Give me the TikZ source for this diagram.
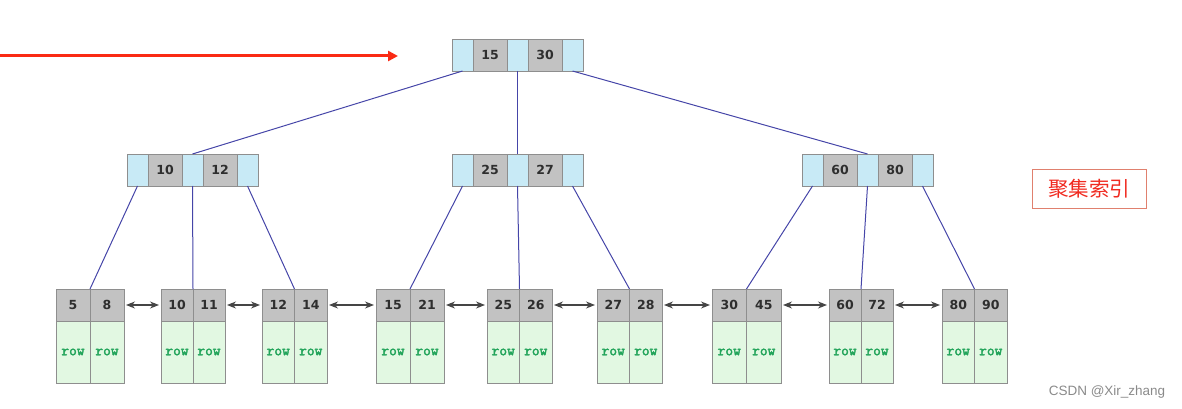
\documentclass[tikz,border=0pt]{standalone}
\usepackage{fontspec}
\usetikzlibrary{arrows.meta}
\newfontfamily\numfont{DejaVu Sans}
\newfontfamily\rowfont[FakeBold=2.5]{Latin Modern Mono}
\newfontfamily\cjk{Noto Sans CJK SC}
\newfontfamily\wmfont{Liberation Sans}
\definecolor{cellblue}{HTML}{C8EAF6}
\definecolor{cellgray}{HTML}{C2C2C2}
\definecolor{cellgreen}{HTML}{E2F8E2}
\definecolor{cellborder}{HTML}{8E8E8E}
\definecolor{linkblue}{HTML}{4545A8}
\definecolor{rowgreen}{HTML}{22A45A}
\definecolor{numcol}{HTML}{2E2E2E}
\definecolor{sibcol}{HTML}{454545}
\definecolor{redline}{HTML}{FA2A14}
\definecolor{boxred}{HTML}{E0806E}
\definecolor{textred}{HTML}{F02A20}
\definecolor{wmgray}{HTML}{8A8A8A}
\tikzset{
  cellbase/.style={draw=cellborder, line width=0.8pt, inner sep=0pt, outer sep=0pt,
    minimum height=32pt},
  bcell/.style={cellbase, fill=cellblue, minimum width=21pt},
  gcell/.style={cellbase, fill=cellgray, minimum width=34pt,
    font=\numfont\bfseries\fontsize{12.5}{13}\selectfont, text=numcol},
  lkey/.style={cellbase, fill=cellgray, font=\numfont\bfseries\fontsize{12.5}{13}\selectfont, text=numcol},
  lrow/.style={cellbase, fill=cellgreen, minimum height=62pt,
    font=\rowfont\fontsize{15}{16}\selectfont, text=rowgreen},
  link/.style={draw=linkblue, line width=1pt},
  sib/.style={draw=sibcol, line width=1.1pt, {Stealth[length=9pt,width=7pt]}-{Stealth[length=9pt,width=7pt]}, shorten <=2pt, shorten >=2pt},
  redarrow/.style={draw=redline, line width=3pt, -{Triangle[length=10pt,width=10pt]}},
  labelbox/.style={draw=boxred, line width=1pt, minimum width=114pt, minimum height=39pt,
    inner sep=0pt, text=textred, font=\cjk\fontsize{20.5}{21}\selectfont},
  wm/.style={text=wmgray, font=\wmfont\fontsize{13.5}{14}\selectfont, inner sep=0pt}
}
\newcommand\inode[5]{%
  \node[bcell, anchor=north west] (#1b1) at (#2,#3) {};
  \node[gcell, anchor=west] (#1k1) at (#1b1.east) {#4};
  \node[bcell, anchor=west] (#1b2) at (#1k1.east) {};
  \node[gcell, anchor=west] (#1k2) at (#1b2.east) {#5};
  \node[bcell, anchor=west] (#1b3) at (#1k2.east) {};
}
\newcommand\leafnode[5]{%
  \node[lkey, minimum width=#3pt, anchor=north west] (#1k1) at (#2,289) {#4};
  \node[lkey, minimum width=#3pt, anchor=west] (#1k2) at (#1k1.east) {#5};
  \node[lrow, minimum width=#3pt, anchor=north] (#1r1) at (#1k1.south) {row};
  \node[lrow, minimum width=#3pt, anchor=north] (#1r2) at (#1k2.south) {row};
}
\begin{document}
\begin{tikzpicture}[x=1pt,y=-1pt]
\useasboundingbox (0,0) rectangle (1182,409);
% internal nodes
\inode{rt}{452}{39}{15}{30}
\inode{ml}{127}{154}{10}{12}
\inode{mm}{452}{154}{25}{27}
\inode{mr}{802}{154}{60}{80}
% leaves
\leafnode{la}{56}{34}{5}{8}
\leafnode{lb}{161}{32}{10}{11}
\leafnode{lc}{262}{32.5}{12}{14}
\leafnode{ld}{376}{34}{15}{21}
\leafnode{le}{487}{32.5}{25}{26}
\leafnode{lf}{597}{32.5}{27}{28}
\leafnode{lg}{712}{34.5}{30}{45}
\leafnode{lh}{829}{32}{60}{72}
\leafnode{li}{942}{32.5}{80}{90}
% root links
\draw[link] (rtb1.south) -- (mlb2.north);
\draw[link] (rtb2.south) -- (mmb2.north);
\draw[link] (rtb3.south) -- (mrb2.north);
% middle links
\draw[link] (mlb1.south) -- (lak1.north east);
\draw[link] (mlb2.south) -- (lbk1.north east);
\draw[link] (mlb3.south) -- (lck1.north east);
\draw[link] (mmb1.south) -- (ldk1.north east);
\draw[link] (mmb2.south) -- (lek1.north east);
\draw[link] (mmb3.south) -- (lfk1.north east);
\draw[link] (mrb1.south) -- (lgk1.north east);
\draw[link] (mrb2.south) -- (lhk1.north east);
\draw[link] (mrb3.south) -- (lik1.north east);
% sibling arrows
\draw[sib] (lak2.east) -- (lbk1.west);
\draw[sib] (lbk2.east) -- (lck1.west);
\draw[sib] (lck2.east) -- (ldk1.west);
\draw[sib] (ldk2.east) -- (lek1.west);
\draw[sib] (lek2.east) -- (lfk1.west);
\draw[sib] (lfk2.east) -- (lgk1.west);
\draw[sib] (lgk2.east) -- (lhk1.west);
\draw[sib] (lhk2.east) -- (lik1.west);
% red pointer
\coordinate (rs) at (0,56);
\coordinate (re) at (398,56);
\draw[redarrow] (rs) -- (re);
% label
\node[labelbox] (lbl) at (1089,188.5) {聚集索引};
\node[wm] (wmk) at (1107,392) {CSDN @Xir\_zhang};
\end{tikzpicture}
\end{document}
